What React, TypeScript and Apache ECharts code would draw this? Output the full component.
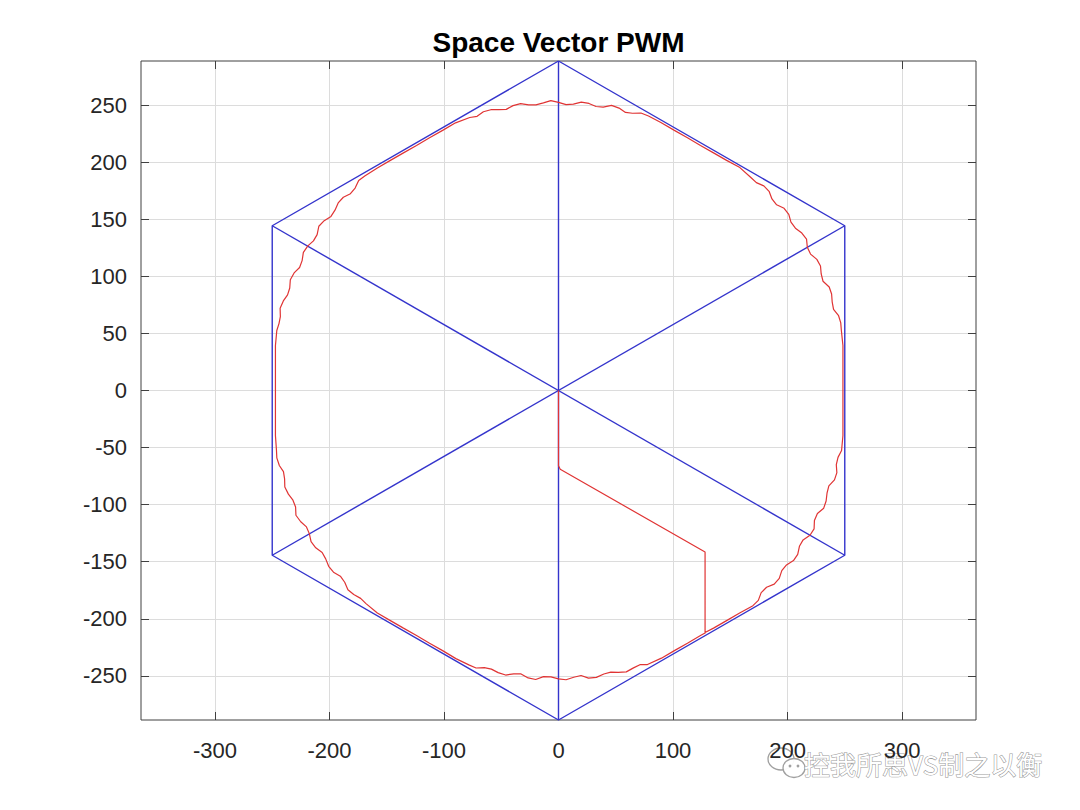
import React, { useEffect, useRef } from "react";
import * as echarts from "echarts";

const titleText = "Space Vector PWM";
const watermarkText = "控我所思VS制之以衡";

const xTicks = [-300, -200, -100, 0, 100, 200, 300];
const yTicks = [-250, -200, -150, -100, -50, 0, 50, 100, 150, 200, 250];

// Hexagon of the voltage vectors (vertices)
const hexagonVertices: number[][] = [
  [0, 288.68], [250, 144.34], [250, -144.34], [0, -288.68],
  [-250, -144.34], [-250, 144.34], [0, 288.68],
];
const spokeA: number[][] = [[0, 288.68], [0, -288.68]];
const spokeB: number[][] = [[250, 144.34], [-250, -144.34]];
const spokeC: number[][] = [[250, -144.34], [-250, 144.34]];

// Start-up transient of the reference vector
const startupPath: number[][] = [
  [0, 0], [0, -66], [1.5, -69], [128, -141.5], [128, -212],
];

// Steady-state trajectory (counter-clockwise)
const circlePath: number[][] = [
  [135.4, -208.2], [146.8, -201.6], [158.2, -195.0],
  [169.8, -188.5], [174.5, -183.9], [177.0, -177.1], [181.7, -172.4], [188.4, -169.6],
  [192.8, -164.6], [195.0, -157.8], [199.1, -152.8], [205.2, -149.0], [208.9, -143.6],
  [210.4, -136.5], [213.6, -130.9], [219.6, -126.8], [223.2, -121.2], [223.5, -113.9],
  [226.1, -107.8], [231.6, -103.1], [233.7, -96.8], [234.5, -90.0], [236.1, -83.6],
  [241.0, -78.3], [243.1, -72.0], [242.6, -65.0], [244.1, -58.6], [247.2, -52.6],
  [248.4, -39.4], [248.4, -26.3], [248.4, -13.2], [248.4, 0],
  [248.4, 13.2], [248.4, 26.3], [248.4, 39.4],
  [247.0, 52.8], [246.5, 59.2], [244.6, 65.5], [240.2, 71.1], [239.0, 77.7],
  [238.5, 84.5], [236.4, 90.7], [231.0, 95.7], [229.4, 102.1], [228.8, 109.1],
  [225.6, 114.9], [220.1, 119.5], [217.3, 125.5], [216.6, 132.7], [212.5, 137.9],
  [206.9, 142.2], [203.0, 147.5], [201.1, 154.3], [197.0, 159.6], [190.5, 162.7],
  [186.4, 167.8], [183.9, 174.5], [179.3, 179.3], [172.8, 182.1], [168.0, 186.6],
  [158.4, 195.3], [146.8, 201.6], [135.4, 208.2], [124.0, 214.7],
  [112.6, 221.4], [101.2, 227.9], [89.4, 234.8],
  [78.6, 240.5], [72.0, 243.1], [64.6, 242.9], [58.5, 243.6], [52.9, 247.4],
  [46.3, 249.8], [39.0, 248.3], [32.8, 248.8], [26.6, 251.5], [19.9, 252.7],
  [13.0, 250.9], [6.6, 250.4], [0, 252.4], [-6.7, 253.9], [-13.2, 252.0],
  [-19.7, 250.2], [-26.1, 250.3], [-33.1, 251.3], [-39.7, 249.6], [-45.6, 246.3],
  [-52.0, 246.0], [-59.1, 246.0], [-65.6, 244.2], [-71.1, 240.2], [-77.5, 239.2],
  [-89.9, 234.5], [-101.2, 227.9], [-112.6, 221.4], [-124.0, 214.7],
  [-135.4, 208.2], [-146.8, 201.6], [-158.2, 195.0],
  [-169.2, 187.9], [-174.5, 183.9], [-177.6, 177.4], [-181.7, 172.4], [-187.9, 169.3],
  [-192.4, 164.3], [-195.2, 158.0], [-198.7, 152.5], [-204.6, 148.8], [-209.3, 143.9],
  [-210.8, 136.6], [-214.0, 131.1], [-218.9, 126.7], [-222.8, 121.0], [-223.9, 113.8],
  [-226.1, 107.8], [-230.9, 103.0], [-234.2, 97.0], [-234.7, 89.8], [-236.6, 83.8],
  [-240.3, 78.5], [-243.1, 72.0], [-242.9, 64.8], [-244.1, 58.6], [-246.0, 52.6],
  [-247.2, 39.4], [-247.2, 26.3], [-247.2, 13.2], [-247.2, 0],
  [-247.2, -13.2], [-247.2, -26.3], [-247.2, -39.4],
  [-246.3, -52.3], [-246.0, -59.0], [-243.8, -65.7], [-240.2, -71.1], [-239.2, -77.4],
  [-239.0, -84.6], [-235.9, -90.8], [-231.9, -96.1], [-229.6, -102.0], [-229.3, -109.3],
  [-225.1, -115.0], [-220.1, -119.5], [-217.6, -125.4], [-216.1, -132.5], [-212.0, -137.8],
  [-206.4, -141.9], [-203.3, -147.5], [-200.7, -154.0], [-196.5, -159.2], [-190.5, -162.7],
  [-186.7, -168.0], [-183.9, -174.5], [-178.8, -178.8], [-172.8, -182.1], [-168.1, -186.7],
  [-158.2, -195.0], [-146.8, -201.6], [-135.4, -208.2], [-124.0, -214.7],
  [-112.6, -221.4], [-101.2, -227.9], [-89.6, -234.9],
  [-78.3, -240.4], [-72.0, -243.1], [-64.8, -242.8], [-58.6, -244.1], [-52.7, -247.2],
  [-46.2, -249.3], [-39.1, -248.2], [-32.7, -248.3], [-26.5, -251.8], [-19.9, -253.2],
  [-13.1, -250.7], [-6.6, -250.9], [0, -252.6], [6.6, -253.4], [13.3, -251.2],
  [19.7, -249.7], [26.2, -252.0], [33.1, -251.3], [39.6, -248.4], [45.7, -246.8],
  [52.2, -246.9], [59.2, -246.5], [65.5, -243.0], [71.1, -240.2], [77.7, -240.1],
  [89.9, -234.5], [101.2, -227.9], [112.6, -221.4], [124.0, -214.7],
  [128.4, -212.2],
];

const X_MIN = -364.6;
const X_MAX = 364.6;
const Y_MIN = -288.68;
const Y_MAX = 288.68;

const BLUE = "#3434cc";
const RED = "#e03434";
const AXIS = "#404040";
const GRID = "#dcdcdc";
const FONT = "'Liberation Sans', Arial, Helvetica, sans-serif";

export default function App() {
  const ref = useRef<HTMLDivElement>(null);

  useEffect(() => {
    if (!ref.current) return;
    const chart = echarts.init(ref.current, null, { renderer: "svg" });

    const tickCommon = {
      show: true,
      inside: true,
      length: 8,
      lineStyle: { color: AXIS, width: 1 },
    };
    const hiddenLine = { show: false, onZero: false };

    const blueLine = (name: string, data: number[][]) => ({
      name,
      type: "line",
      data,
      showSymbol: false,
      symbol: "none",
      clip: false,
      silent: true,
      lineStyle: { color: BLUE, width: 1.4 },
      z: 2,
    });

    chart.setOption({
      animation: false,
      backgroundColor: "#ffffff",
      grid: {
        left: 141,
        top: 61,
        width: 835,
        height: 659,
        show: true,
        borderColor: AXIS,
        borderWidth: 1,
        backgroundColor: "#ffffff",
        containLabel: false,
      },
      xAxis: [
        {
          type: "value",
          min: X_MIN,
          max: X_MAX,
          position: "bottom",
          axisLine: hiddenLine,
          axisTick: { ...tickCommon, customValues: xTicks },
          axisLabel: {
            customValues: xTicks,
            color: "#262626",
            fontSize: 22,
            fontFamily: FONT,
            margin: 19,
          },
          splitLine: { show: true, lineStyle: { color: GRID, width: 1 } },
        },
        {
          type: "value",
          min: X_MIN,
          max: X_MAX,
          position: "top",
          axisLine: hiddenLine,
          axisTick: { ...tickCommon, customValues: xTicks },
          axisLabel: { show: false },
          splitLine: { show: false },
        },
      ],
      yAxis: [
        {
          type: "value",
          min: Y_MIN,
          max: Y_MAX,
          position: "left",
          axisLine: hiddenLine,
          axisTick: { ...tickCommon, customValues: yTicks },
          axisLabel: {
            customValues: yTicks,
            color: "#262626",
            fontSize: 22,
            fontFamily: FONT,
            margin: 14,
          },
          splitLine: { show: true, lineStyle: { color: GRID, width: 1 } },
        },
        {
          type: "value",
          min: Y_MIN,
          max: Y_MAX,
          position: "right",
          axisLine: hiddenLine,
          axisTick: { ...tickCommon, customValues: yTicks },
          axisLabel: { show: false },
          splitLine: { show: false },
        },
      ],
      series: [
        blueLine("hexagon", hexagonVertices),
        blueLine("spoke-a", spokeA),
        blueLine("spoke-b", spokeB),
        blueLine("spoke-c", spokeC),
        {
          name: "trajectory",
          type: "line",
          data: [...startupPath, ...circlePath],
          showSymbol: false,
          symbol: "none",
          clip: false,
          silent: true,
          lineStyle: { color: RED, width: 1.2 },
          z: 3,
        },
      ],
      graphic: [
        {
          type: "text",
          x: 558.5,
          y: 42,
          style: {
            text: titleText,
            fill: "#000000",
            font: `bold 28px ${FONT}`,
            textAlign: "center",
            textVerticalAlign: "middle",
          },
          z: 10,
        },
        {
          type: "group",
          z: 20,
          children: [
            {
              type: "ellipse",
              shape: { cx: 781, cy: 759, rx: 13, ry: 11 },
              style: { fill: "rgba(255,255,255,0.9)", stroke: "#a0a0a0", lineWidth: 1.3 },
            },
            {
              type: "ellipse",
              shape: { cx: 794, cy: 768, rx: 11, ry: 9.5 },
              style: { fill: "rgba(255,255,255,0.95)", stroke: "#a0a0a0", lineWidth: 1.3 },
            },
            {
              type: "circle",
              shape: { cx: 790, cy: 766, r: 1.4 },
              style: { fill: "#a0a0a0" },
            },
            {
              type: "circle",
              shape: { cx: 798, cy: 766, r: 1.4 },
              style: { fill: "#a0a0a0" },
            },
            {
              type: "text",
              x: 804,
              y: 763,
              style: {
                text: watermarkText,
                fill: "#ffffff",
                stroke: "#9a9a9a",
                lineWidth: 1.1,
                font: `26px 'Noto Sans CJK SC', sans-serif`,
                textAlign: "left",
                textVerticalAlign: "middle",
              },
            },
          ],
        },
      ],
    });

    return () => {
      chart.dispose();
    };
  }, []);

  return (
    <div
      ref={ref}
      style={{ position: "fixed", left: 0, top: 0, width: 1080, height: 810 }}
    />
  );
}
